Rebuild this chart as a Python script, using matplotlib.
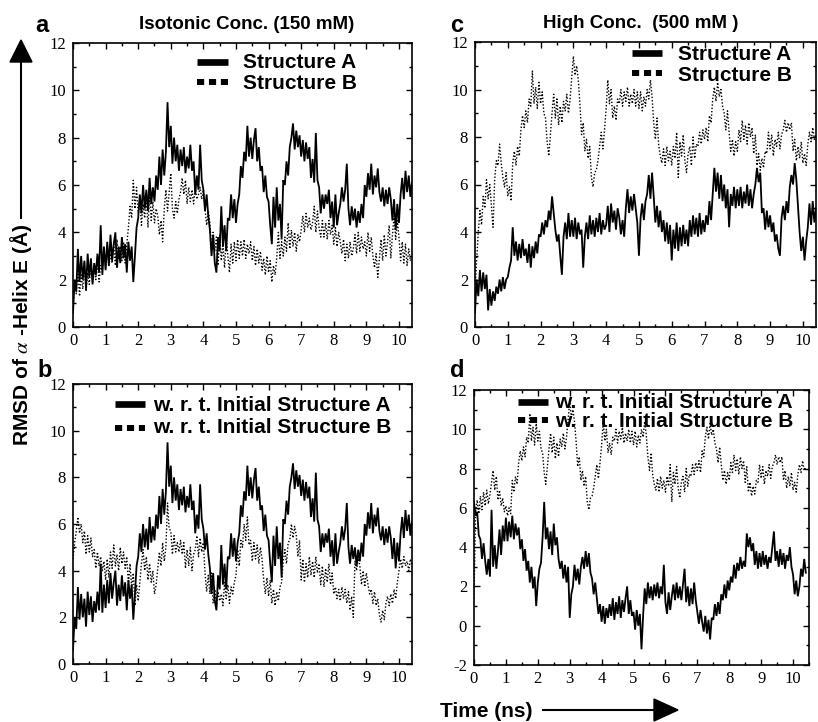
import matplotlib
matplotlib.use("Agg")
import matplotlib.pyplot as plt
import numpy as np
from matplotlib.lines import Line2D
from matplotlib.patches import Polygon
from matplotlib.ticker import MultipleLocator

# ---------------- data (RMSD in Angstrom, sampled every 0.05 ns) ----------------
step_ns = 0.05

iso_A = [0.6,2.0,1.5,3.3,1.9,3.0,2.0,2.8,1.6,3.1,2.1,2.9,1.8,2.7,2.2,3.1,2.3,4.3,2.2,3.4,
         2.4,3.6,2.6,3.9,2.8,3.5,4.0,2.5,3.4,2.7,3.8,2.9,3.5,2.3,3.6,2.8,3.4,1.9,3.0,4.2,
         4.6,5.6,4.8,6.0,5.0,5.8,4.9,6.3,5.2,5.9,5.3,6.4,5.8,7.2,6.0,7.5,6.4,7.4,9.5,7.6,
         8.5,6.9,8.0,7.0,7.7,6.6,7.5,6.8,7.6,6.5,7.2,6.7,7.7,6.6,7.0,5.6,6.4,5.8,7.7,6.2,
         5.8,4.9,5.6,4.7,4.1,3.0,3.9,2.7,2.3,3.8,3.2,5.1,3.4,4.3,3.2,4.6,4.5,5.6,4.6,5.4,
         4.4,5.2,5.6,6.8,6.3,7.4,7.0,8.5,7.2,8.0,7.1,7.9,8.4,7.0,7.6,6.6,6.8,5.7,6.4,5.5,
         5.3,4.3,3.5,5.5,4.2,5.9,4.5,5.2,3.7,6.2,6.0,7.0,6.4,7.6,8.0,8.6,7.5,8.3,7.6,8.1,
         7.2,7.9,7.0,7.8,7.1,7.6,6.3,7.1,6.1,8.2,6.2,5.9,4.8,5.6,5.0,5.6,5.2,5.8,4.6,5.3,
         4.2,5.6,4.3,4.8,5.2,5.9,5.3,5.8,6.9,5.0,4.3,5.1,4.5,5.0,4.2,4.9,4.4,5.2,4.6,6.0,
         5.5,6.5,5.8,6.9,5.6,6.4,5.9,6.7,5.7,5.3,5.9,5.1,5.8,5.2,5.9,5.4,4.5,5.4,4.1,5.2,
         4.4,5.6,6.3,5.4,6.6,5.7,6.4,5.5,6.1]

iso_B = [0.8,1.9,1.4,2.5,1.3,2.2,1.6,2.7,1.5,2.3,1.8,2.7,1.9,2.5,2.0,2.8,1.9,2.6,2.4,3.2,
         2.5,3.3,2.6,3.1,2.7,3.5,2.6,3.7,2.9,3.4,2.8,3.6,2.7,3.5,4.2,5.1,4.6,6.2,5.0,5.9,
         4.8,5.4,4.3,5.2,4.6,5.5,4.2,5.6,4.5,5.3,4.4,5.0,4.7,3.9,4.5,3.6,5.0,5.8,4.9,5.7,
         6.5,5.0,4.6,5.3,4.8,5.4,5.7,6.3,5.6,6.2,5.2,5.9,5.3,5.8,5.2,5.9,5.4,5.6,5.9,5.4,
         5.8,5.0,4.3,4.9,4.4,3.3,4.0,3.2,3.8,2.6,3.9,2.8,3.5,2.5,3.8,3.0,2.3,3.5,2.7,3.6,
         2.8,3.7,2.9,3.6,3.0,3.7,2.9,3.5,3.1,3.6,2.8,3.4,2.6,3.3,2.7,3.2,2.4,2.9,2.2,3.0,
         2.3,2.8,1.9,2.6,2.2,2.9,4.0,2.9,3.6,3.0,3.8,3.2,4.4,3.3,4.1,3.4,4.0,3.2,3.9,3.6,
         4.1,4.7,4.0,4.8,4.2,4.6,4.1,4.4,5.1,4.0,4.9,4.2,3.8,4.5,3.8,4.4,3.7,4.5,3.9,4.3,
         3.5,4.2,3.4,4.0,3.6,3.1,3.7,2.8,3.5,2.9,3.6,3.0,3.3,3.9,3.1,4.0,3.2,3.8,3.3,3.6,
         3.0,4.0,3.2,3.8,3.0,2.5,3.1,2.1,2.9,3.7,2.8,3.9,3.0,3.6,4.3,2.9,3.9,4.7,3.7,4.5,
         3.8,2.8,3.6,2.7,3.5,2.6,3.3,2.8,3.1]

iso_wrt_B = [4.5,5.2,5.7,6.3,5.6,6.0,5.2,5.7,4.7,5.5,4.8,5.4,4.6,4.9,4.1,4.8,4.2,4.6,4.0,4.4,
             3.6,4.5,3.7,4.8,4.1,5.1,4.2,4.7,4.0,5.0,4.3,4.8,4.1,4.6,3.4,4.3,3.3,3.9,2.5,3.4,
             2.7,3.5,4.3,4.9,4.0,4.6,3.6,4.3,3.5,4.0,3.0,3.4,4.1,4.8,4.2,5.2,4.4,5.0,6.9,5.8,
             5.7,4.7,5.5,4.8,5.2,4.8,5.3,4.7,5.2,4.1,4.9,4.2,5.0,4.0,4.7,4.9,5.5,4.6,5.4,4.8,
             5.2,3.9,3.1,3.8,3.0,3.9,2.6,3.2,2.5,3.1,2.7,3.0,2.5,3.5,2.8,3.4,2.6,3.3,3.0,3.5,
             3.8,4.9,4.2,5.3,5.0,6.0,5.3,6.3,5.1,5.3,4.4,5.2,4.5,5.1,4.3,5.0,4.5,3.6,3.0,3.7,
             2.9,3.6,2.6,3.2,2.5,3.1,2.7,3.3,3.5,4.4,4.9,4.3,5.2,5.3,6.0,5.4,5.9,5.5,4.6,5.3,
             3.6,4.5,3.5,4.3,3.7,4.6,3.8,4.4,3.7,4.6,3.9,4.3,3.4,4.2,3.3,4.1,3.5,4.3,3.4,3.9,
             3.0,3.3,2.8,3.2,2.7,3.3,2.8,3.2,2.6,3.1,2.3,2.9,2.0,4.4,4.0,4.6,4.2,3.4,4.0,3.3,
             3.9,3.4,3.0,3.2,2.6,3.1,2.5,2.8,2.1,1.8,2.3,1.9,2.6,2.9,2.5,3.0,2.6,3.2,2.8,3.5,
             4.0,4.5,4.1,4.6,4.2,4.4,4.0,4.5,4.2]

high_A = [0.6,2.0,1.3,2.4,1.5,2.3,1.6,2.2,0.7,1.6,0.9,1.5,1.1,1.7,1.4,2.0,1.5,2.1,1.6,2.0,
          2.1,2.5,2.8,4.2,3.0,3.6,2.8,3.5,2.9,3.7,3.0,3.3,2.7,3.5,2.5,3.4,2.9,3.6,3.1,3.9,
          3.8,4.4,3.9,4.5,4.2,4.9,4.5,5.5,4.8,4.1,3.6,3.9,3.0,2.2,3.8,4.4,3.7,4.8,3.8,4.5,
          3.8,4.6,3.7,4.4,3.9,4.1,2.5,3.8,4.4,3.7,4.7,3.9,4.5,3.8,4.6,4.0,4.8,3.9,4.5,4.1,
          4.3,5.1,4.0,5.2,4.4,4.9,4.1,5.0,4.6,3.9,4.5,3.8,5.0,5.8,4.8,5.5,4.9,5.6,5.0,4.4,
          3.0,4.6,5.2,4.5,5.3,5.6,6.4,5.4,6.5,5.5,4.4,5.1,4.2,4.9,4.0,4.5,3.6,4.4,3.5,4.3,
          2.8,4.1,3.3,4.4,3.2,4.2,3.4,4.3,3.5,4.1,3.4,4.5,3.8,4.7,3.9,4.6,3.8,4.8,3.9,4.5,
          4.0,4.7,4.3,5.3,4.5,5.6,6.7,5.7,6.5,5.4,6.4,5.3,6.0,5.0,5.8,4.2,5.6,5.1,5.9,5.0,
          5.8,5.1,5.9,5.0,5.7,5.2,6.0,5.1,5.8,5.0,5.6,6.0,6.7,6.1,6.5,4.8,5.0,4.1,4.9,4.2,
          4.7,4.0,4.4,3.6,3.9,3.3,3.0,4.6,5.1,4.5,5.3,4.8,5.9,6.4,6.0,6.9,6.2,5.1,4.0,3.2,
          3.8,2.8,3.6,4.2,5.2,4.3,5.3,4.4,5.0]

high_B = [1.5,2.8,4.0,4.9,4.3,5.5,5.0,6.2,5.4,6.0,5.1,4.2,6.2,7.0,6.8,7.7,6.9,6.3,5.9,6.5,
          5.5,5.9,5.3,6.9,7.4,6.8,7.6,7.2,8.3,8.9,8.4,9.1,8.6,9.6,9.3,10.8,9.4,10.1,9.2,10.3,
          9.4,9.9,9.0,8.8,7.8,7.2,8.1,9.0,9.8,8.8,9.6,8.5,9.3,8.6,9.5,9.1,9.8,9.0,9.6,10.5,
          11.4,10.6,11.0,10.4,9.4,8.1,8.6,7.4,7.9,7.1,7.6,6.3,5.9,6.5,6.6,7.0,7.6,8.2,7.5,8.3,
          9.2,10.4,9.4,10.0,8.8,9.3,8.7,9.6,9.4,10.0,9.3,9.9,9.5,10.1,9.3,9.8,9.4,10.0,9.3,9.9,
          9.2,9.9,9.1,9.7,9.3,10.0,9.6,10.4,9.7,8.6,7.9,8.8,7.7,7.2,6.9,7.5,6.8,7.6,7.0,7.4,
          6.8,7.6,7.1,8.2,6.3,7.8,7.2,8.1,7.0,6.5,7.3,7.6,6.8,8.0,7.1,7.7,7.6,8.2,7.7,8.3,
          7.9,8.4,7.8,8.9,8.6,9.6,10.1,9.5,10.3,9.7,10.0,9.3,9.0,8.3,9.1,8.2,7.4,7.9,7.2,7.8,
          7.4,8.3,7.8,8.7,7.9,8.5,7.7,8.6,8.0,8.4,7.3,8.1,6.8,7.3,6.6,7.1,6.7,7.4,7.3,8.2,
          7.5,8.1,7.2,7.9,7.6,8.2,7.5,8.1,8.3,8.7,8.2,8.6,8.3,8.6,7.4,7.9,7.0,7.6,7.1,7.8,
          6.9,7.3,6.8,7.7,8.2,7.8,8.4,7.9,8.1]

high_wrt_A = [6.3,5.6,5.8,4.6,4.4,3.4,4.2,3.3,2.6,3.4,2.5,5.9,3.0,4.1,2.9,3.8,4.9,3.6,5.1,4.3,
              5.5,4.3,5.3,4.5,5.6,4.4,5.2,4.6,5.0,3.9,4.4,3.3,3.9,2.8,3.3,2.2,3.0,1.9,2.5,1.0,
              2.2,2.9,3.2,4.5,6.3,4.4,5.0,3.9,4.8,3.6,5.2,4.1,4.5,3.4,2.9,3.3,2.4,3.1,2.2,3.0,
              0.4,1.6,2.0,3.1,2.3,2.9,2.1,3.0,3.5,2.9,3.8,3.0,3.7,2.7,2.4,1.6,2.2,1.4,0.6,1.1,
              0.2,1.0,0.1,0.9,0.4,1.1,0.5,1.4,0.3,1.2,0.6,1.5,0.4,1.3,0.7,1.4,2.0,0.6,1.3,0.5,
              0.7,-0.2,0.8,0.0,0.6,-1.2,0.5,1.9,1.1,2.2,1.4,2.0,1.3,2.1,1.5,2.2,1.4,2.0,1.6,3.1,
              1.2,0.6,1.7,0.8,1.5,2.1,1.3,2.2,1.4,2.0,1.3,2.1,2.9,1.2,2.0,1.0,1.9,1.1,2.2,1.3,
              0.7,0.1,0.8,0.2,-0.3,0.5,-0.4,0.3,-0.7,0.4,0.3,1.1,0.5,1.2,0.6,1.6,1.3,2.1,1.4,2.3,
              1.8,2.5,2.2,3.1,2.4,3.2,2.8,3.5,2.9,3.3,3.0,4.7,4.0,4.5,3.8,4.2,3.1,3.8,2.9,3.7,
              3.0,3.8,3.1,3.6,2.9,3.5,3.2,4.0,4.8,3.3,3.8,3.0,3.9,3.1,3.7,2.9,3.6,3.3,4.0,3.0,
              2.6,1.6,2.3,1.5,2.0,2.9,2.5,3.4,2.7]

high_wrt_B_start = [1.4,5.8,6.4,5.7,6.6,5.9,6.8,6.1,6.9,6.2,6.7,7.3,7.9,6.9,7.6,6.4,
                    6.9,6.1,6.5,5.8,6.1,5.6,6.0,5.7]
high_wrt_B = high_wrt_B_start + high_B[len(high_wrt_B_start):]

xtick_values = list(range(0, 11))
xtick_labels = [str(v) for v in xtick_values]
ytick_values_abc = list(range(0, 13, 2))
ytick_labels_abc = [str(v) for v in ytick_values_abc]
ytick_values_d = list(range(-2, 13, 2))
ytick_labels_d = [str(v) for v in ytick_values_d]

legend_ac = ["Structure A", "Structure B"]
legend_bd = ["w. r. t. Initial Structure A", "w. r. t. Initial Structure B"]

# ---------------- layout ----------------
plt.rcParams["font.family"] = ["Liberation Sans", "DejaVu Sans"]
plt.rcParams["mathtext.fontset"] = "stix"

W, H = 818, 722
fig = plt.figure(figsize=(W / 100, H / 100), dpi=100)


def fx(px):
    return px / W


def fy(py):
    return 1 - py / H


def box(l, t, r, b):
    return [l / W, 1 - b / H, (r - l) / W, (b - t) / H]


def style_axes(ax, yt, yl, ylim, xmax):
    ax.set_xlim(0, xmax)
    ax.set_ylim(*ylim)
    ax.set_xticks(xtick_values)
    ax.set_xticklabels(xtick_labels, fontfamily="Liberation Serif", fontsize=12)
    ax.set_yticks(yt)
    ax.set_yticklabels(yl, fontfamily="Liberation Serif", fontsize=12)
    ax.xaxis.set_minor_locator(MultipleLocator(0.5))
    ax.yaxis.set_minor_locator(MultipleLocator(1))
    ax.tick_params(which="both", direction="in", top=True, right=True, width=1.0)
    ax.tick_params(which="major", length=4.5)
    ax.tick_params(which="minor", length=2.5)
    ax.tick_params(axis="x", pad=4)
    ax.tick_params(axis="y", pad=5)
    for s in ax.spines.values():
        s.set_linewidth(1.2)


def draw_series(ax, solid, dotted):
    ts = np.arange(len(solid)) * step_ns
    td = np.arange(len(dotted)) * step_ns
    ax.plot(td, dotted, color="black", lw=1.0, linestyle=(0, (1, 1.4)))
    ax.plot(ts, solid, color="black", lw=1.3, solid_joinstyle="miter")


def legend_row(x0, x1, y, dotted, text, tx, base):
    if dotted:
        ln = Line2D([fx(x0), fx(x1)], [fy(y), fy(y)], transform=fig.transFigure,
                    color="black", lw=4.3, linestyle=(0, (1.2, 0.8)), solid_capstyle="butt",
                    dash_capstyle="butt")
    else:
        ln = Line2D([fx(x0), fx(x1)], [fy(y), fy(y)], transform=fig.transFigure,
                    color="black", lw=4.8, solid_capstyle="butt")
    fig.add_artist(ln)
    fig.text(fx(tx), fy(base), text, fontsize=15, fontweight="bold", ha="left",
             va="baseline")


# panel a
ax_a = fig.add_axes(box(73, 43, 412, 327))
draw_series(ax_a, iso_A, iso_B)
style_axes(ax_a, ytick_values_abc, ytick_labels_abc, (0, 12), 10.4)

# panel b
ax_b = fig.add_axes(box(73, 384, 412, 664))
draw_series(ax_b, iso_A, iso_wrt_B)
style_axes(ax_b, ytick_values_abc, ytick_labels_abc, (0, 12), 10.4)

# panel c
ax_c = fig.add_axes(box(475, 42, 816, 327))
draw_series(ax_c, high_A, high_B)
style_axes(ax_c, ytick_values_abc, ytick_labels_abc, (0, 12), 10.4)

# panel d
ax_d = fig.add_axes(box(474, 390, 809, 665))
draw_series(ax_d, high_wrt_A, high_wrt_B)
style_axes(ax_d, ytick_values_d, ytick_labels_d, (-2, 12), 10.5)

# legends
legend_row(197, 228, 62, False, legend_ac[0], 243, 68)
legend_row(197, 228, 82, True, legend_ac[1], 243, 89)
legend_row(632, 662, 53, False, legend_ac[0], 678, 60)
legend_row(632, 662, 73, True, legend_ac[1], 678, 81)
legend_row(115, 145, 404, False, legend_bd[0], 153, 411)
legend_row(115, 145, 428, True, legend_bd[1], 153, 433)
legend_row(518, 548, 402, False, legend_bd[0], 555, 408)
legend_row(518, 548, 420, True, legend_bd[1], 555, 427)

# panel letters
for letter, x, y in [("a", 35, 32), ("b", 37, 377), ("c", 450, 32), ("d", 450, 377)]:
    fig.text(fx(x), fy(y), letter, fontsize=17, fontweight="bold", ha="left", va="baseline")

# titles
fig.text(fx(247), fy(29), "Isotonic Conc. (150 mM)", fontsize=13.5, fontweight="bold",
         ha="center", va="baseline")
fig.text(fx(641), fy(28), "High Conc.  (500 mM )", fontsize=13.5, fontweight="bold",
         ha="center", va="baseline")

# y label with arrow
fig.text(fx(21), fy(335), r"RMSD of $\alpha$ -Helix E (Å)", rotation=90, fontsize=15,
         fontweight="bold", ha="center", va="center")
fig.add_artist(Line2D([fx(21), fx(21)], [fy(218), fy(58)], transform=fig.transFigure,
                      color="black", lw=1.5))
fig.add_artist(Polygon([[fx(10), fy(62)], [fx(32), fy(62)], [fx(21), fy(40)]], closed=True,
                       transform=fig.transFigure, color="black"))

# x label with arrow
fig.text(fx(440), fy(717), "Time (ns)", fontsize=15, fontweight="bold", ha="left",
         va="baseline")
fig.add_artist(Line2D([fx(543), fx(658)], [fy(710), fy(710)], transform=fig.transFigure,
                      color="black", lw=1.5))
fig.add_artist(Polygon([[fx(654), fy(699)], [fx(654), fy(721)], [fx(678), fy(710)]],
                       closed=True, transform=fig.transFigure, color="black"))

fig.savefig("out.png", dpi=100)
